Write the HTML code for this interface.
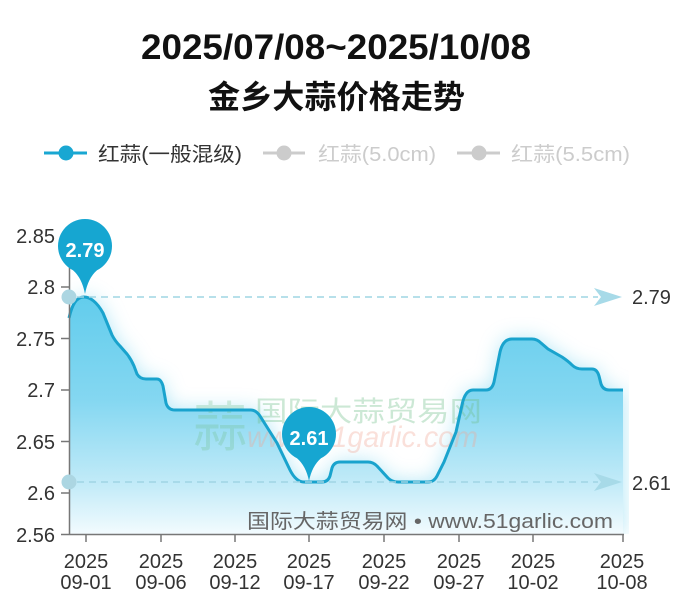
<!DOCTYPE html>
<html><head><meta charset="utf-8">
<style>
html,body{margin:0;padding:0;background:#fff;}
svg{display:block;}
text{font-family:"Liberation Sans","Noto Sans CJK SC",sans-serif;}
</style></head>
<body>
<svg width="687" height="600" viewBox="0 0 687 600" xmlns="http://www.w3.org/2000/svg">
<defs>
  <linearGradient id="ag" x1="0" y1="290" x2="0" y2="534" gradientUnits="userSpaceOnUse">
    <stop offset="0" stop-color="#60ccec"/>
    <stop offset="0.45" stop-color="#84d7f1"/>
    <stop offset="0.8" stop-color="#c3ebf8"/>
    <stop offset="1" stop-color="#f2fbfe"/>
  </linearGradient>
  <filter id="blur" x="-20%" y="-20%" width="140%" height="140%">
    <feGaussianBlur stdDeviation="10"/>
  </filter>
  <clipPath id="pc"><rect x="69" y="200" width="560" height="334"/></clipPath>
  <path id="curve" d="M69,318 C72,305 76,297 84,297 C90,297 97,302 103,313 L112,335 Q115,341 120,346 L127,354 Q131,359 134,366 L137,374 Q140,379 146,379 L157,379 Q161,379 163,386 L166,403 Q168,410 175,410 L251,410 Q256,410 260,416 L277,443 L290,470 Q296,482 304,482 L322,482 Q328,482 330,476 L332,468 Q334,462 340,462 L368,462 Q373,462 377,466 L388,478 Q392,482 398,482 L428,482 Q434,482 437,476 L444,462 L456,432 L462,405 Q465,390 473,390 L486,390 Q492,390 494,382 L500,352 Q503,339 512,339 L532,339 Q537,339 541,343 L548,349 L562,357 Q568,361 572,365 Q576,369 582,369 L592,369 Q597,369 599,376 L601,384 Q603,390 609,390 L623,390"/>
</defs>

<!-- Title -->
<text x="141" y="59" font-size="35" font-weight="bold" fill="#111" textLength="390" lengthAdjust="spacingAndGlyphs">2025/07/08~2025/10/08</text>
<text x="208" y="108" font-size="32" font-weight="bold" fill="#111" textLength="257" lengthAdjust="spacingAndGlyphs">金乡大蒜价格走势</text>

<!-- Legend -->
<line x1="44" y1="153" x2="87" y2="153" stroke="#19a7d2" stroke-width="3"/>
<circle cx="66" cy="153" r="7.5" fill="#19a7d2"/>
<text x="98" y="161" font-size="20" fill="#333" textLength="144" lengthAdjust="spacingAndGlyphs">红蒜(一般混级)</text>
<line x1="263" y1="153" x2="305" y2="153" stroke="#ccc" stroke-width="3"/>
<circle cx="284" cy="153" r="7.5" fill="#ccc"/>
<text x="318" y="161" font-size="20" fill="#ccc" textLength="118" lengthAdjust="spacingAndGlyphs">红蒜(5.0cm)</text>
<line x1="457" y1="153" x2="500" y2="153" stroke="#ccc" stroke-width="3"/>
<circle cx="479" cy="153" r="7.5" fill="#ccc"/>
<text x="511" y="161" font-size="20" fill="#ccc" textLength="119" lengthAdjust="spacingAndGlyphs">红蒜(5.5cm)</text>

<!-- Glow + area -->
<g clip-path="url(#pc)">
  <path filter="url(#blur)" fill="#8edbf2" opacity="0.7" d="M69,318 C72,305 76,297 84,297 C90,297 97,302 103,313 L112,335 Q115,341 120,346 L127,354 Q131,359 134,366 L137,374 Q140,379 146,379 L157,379 Q161,379 163,386 L166,403 Q168,410 175,410 L251,410 Q256,410 260,416 L277,443 L290,470 Q296,482 304,482 L322,482 Q328,482 330,476 L332,468 Q334,462 340,462 L368,462 Q373,462 377,466 L388,478 Q392,482 398,482 L428,482 Q434,482 437,476 L444,462 L456,432 L462,405 Q465,390 473,390 L486,390 Q492,390 494,382 L500,352 Q503,339 512,339 L532,339 Q537,339 541,343 L548,349 L562,357 Q568,361 572,365 Q576,369 582,369 L592,369 Q597,369 599,376 L601,384 Q603,390 609,390 L623,390 L623,534 L69,534 Z"/>
  <path fill="url(#ag)" d="M69,318 C72,305 76,297 84,297 C90,297 97,302 103,313 L112,335 Q115,341 120,346 L127,354 Q131,359 134,366 L137,374 Q140,379 146,379 L157,379 Q161,379 163,386 L166,403 Q168,410 175,410 L251,410 Q256,410 260,416 L277,443 L290,470 Q296,482 304,482 L322,482 Q328,482 330,476 L332,468 Q334,462 340,462 L368,462 Q373,462 377,466 L388,478 Q392,482 398,482 L428,482 Q434,482 437,476 L444,462 L456,432 L462,405 Q465,390 473,390 L486,390 Q492,390 494,382 L500,352 Q503,339 512,339 L532,339 Q537,339 541,343 L548,349 L562,357 Q568,361 572,365 Q576,369 582,369 L592,369 Q597,369 599,376 L601,384 Q603,390 609,390 L623,390 L623,534 L69,534 Z"/>
</g>

<!-- Watermark -->
<text x="193" y="446" font-size="54" fill="rgba(110,190,135,0.28)" font-family="Noto Sans CJK SC, sans-serif">蒜</text>
<text x="255" y="421" font-size="28" fill="rgba(110,190,135,0.35)" textLength="227" lengthAdjust="spacingAndGlyphs">国际大蒜贸易网</text>
<text x="247" y="447" font-size="30" font-style="italic" fill="rgba(240,165,150,0.35)" textLength="231" lengthAdjust="spacingAndGlyphs">www.51garlic.com</text>

<!-- Line -->
<use href="#curve" fill="none" stroke="#19a3cd" stroke-width="3" stroke-linejoin="round"/>

<!-- Mark lines -->
<line x1="77" y1="297" x2="598" y2="297" stroke="#9fd5e4" stroke-width="1.5" stroke-dasharray="7 5"/>
<polygon points="622,297 594,288 601,297 594,306" fill="#a7dae8"/>
<text x="632" y="304" font-size="20" fill="#333">2.79</text>
<line x1="77" y1="482" x2="598" y2="482" stroke="#9fd5e4" stroke-width="1.5" stroke-dasharray="7 5"/>
<polygon points="622,482 594,473 601,482 594,491" fill="#a7dae8"/>
<text x="632" y="490" font-size="20" fill="#333">2.61</text>

<!-- Bottom watermark text -->
<text x="247" y="528" font-size="20" fill="#666" textLength="366" lengthAdjust="spacingAndGlyphs">国际大蒜贸易网 • www.51garlic.com</text>

<!-- Axes -->
<g stroke="#777" stroke-width="1.5">
  <line x1="69.5" y1="235" x2="69.5" y2="534"/>
  <line x1="69" y1="534.5" x2="624" y2="534.5"/>
  <line x1="61" y1="235.5" x2="69" y2="235.5"/>
  <line x1="61" y1="287" x2="69" y2="287"/>
  <line x1="61" y1="338.5" x2="69" y2="338.5"/>
  <line x1="61" y1="390" x2="69" y2="390"/>
  <line x1="61" y1="441.5" x2="69" y2="441.5"/>
  <line x1="61" y1="493" x2="69" y2="493"/>
  <line x1="61" y1="534.5" x2="69" y2="534.5"/>
  <line x1="86" y1="534" x2="86" y2="542"/>
  <line x1="161" y1="534" x2="161" y2="542"/>
  <line x1="235" y1="534" x2="235" y2="542"/>
  <line x1="309" y1="534" x2="309" y2="542"/>
  <line x1="384" y1="534" x2="384" y2="542"/>
  <line x1="459" y1="534" x2="459" y2="542"/>
  <line x1="533" y1="534" x2="533" y2="542"/>
  <line x1="623" y1="534" x2="623" y2="542"/>
</g>
<g font-size="20" fill="#333" text-anchor="end">
  <text x="55" y="243">2.85</text>
  <text x="55" y="294">2.8</text>
  <text x="55" y="346">2.75</text>
  <text x="55" y="397">2.7</text>
  <text x="55" y="449">2.65</text>
  <text x="55" y="500">2.6</text>
  <text x="55" y="542">2.56</text>
</g>
<g font-size="20" fill="#333" text-anchor="middle">
  <text x="86" y="568">2025</text><text x="86" y="589">09-01</text>
  <text x="161" y="568">2025</text><text x="161" y="589">09-06</text>
  <text x="235" y="568">2025</text><text x="235" y="589">09-12</text>
  <text x="309" y="568">2025</text><text x="309" y="589">09-17</text>
  <text x="384" y="568">2025</text><text x="384" y="589">09-22</text>
  <text x="459" y="568">2025</text><text x="459" y="589">09-27</text>
  <text x="533" y="568">2025</text><text x="533" y="589">10-02</text>
  <text x="622" y="568">2025</text><text x="622" y="589">10-08</text>
</g>

<!-- start points of mark lines -->
<circle cx="69" cy="297" r="7.5" fill="#acd6e2"/>
<circle cx="69" cy="482" r="7.5" fill="#acd6e2"/>

<!-- Pins -->
<path fill="#16a6d1" d="M73,270.2 A27,27 0 1 1 97,270.2 Q88,278 85,294 Q82,278 73,270.2 Z"/>
<text x="85" y="257" font-size="20" font-weight="bold" fill="#fff" text-anchor="middle">2.79</text>
<path fill="#16a6d1" d="M297,458.2 A27,27 0 1 1 321,458.2 Q312,466 309,481 Q306,466 297,458.2 Z"/>
<text x="309" y="445" font-size="20" font-weight="bold" fill="#fff" text-anchor="middle">2.61</text>
</svg>
</body></html>
